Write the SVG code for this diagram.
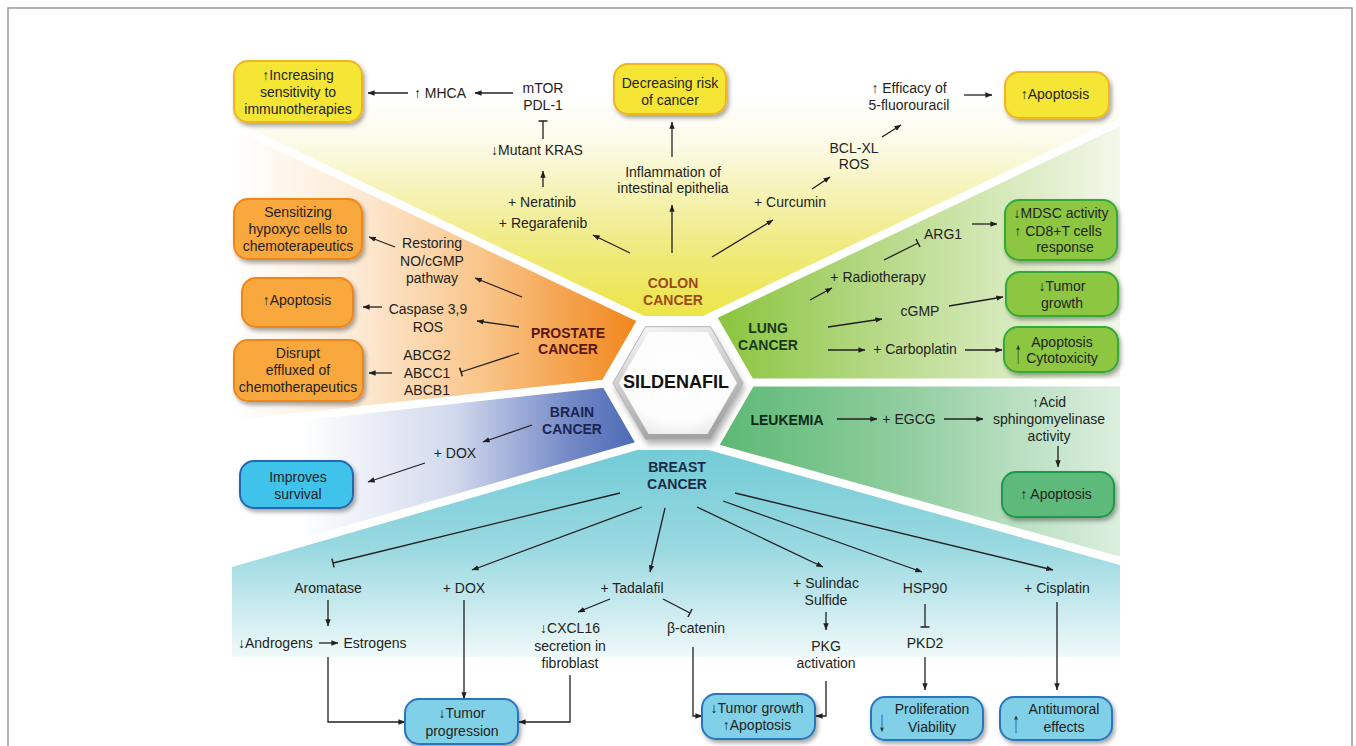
<svg xmlns="http://www.w3.org/2000/svg" width="1356" height="746" viewBox="0 0 1356 746">
<defs>
<style>
text{font-family:'Liberation Sans',Arial,Helvetica,sans-serif;font-size:14px;fill:#231f20;text-anchor:middle}
.lb{font-weight:bold}
.c{fill:none;stroke:#231f20;stroke-width:1.3}
.a{marker-end:url(#ah)}
.t{marker-end:url(#tb)}
.box{stroke-width:2;filter:url(#sh)}
.by{fill:#f5e535;stroke:#f2b520}
.bo{fill:#f9a83e;stroke:#f08619}
.bc{fill:#3fc3ea;stroke:#2868b0}
.bl{fill:#8dc63f;stroke:#36a939}
.bk{fill:#5dba7a;stroke:#1f9a48}
.bb{fill:#80d0e7;stroke:#2a76be}
.sep{stroke:#fff;stroke-width:8;fill:none}
</style>
<marker id="ah" viewBox="0 0 10 10" refX="9.5" refY="5" markerWidth="7" markerHeight="7" orient="auto" markerUnits="userSpaceOnUse"><path d="M0,1.2 L10,5 L0,8.8 z" fill="#231f20"/></marker>
<marker id="tb" viewBox="0 0 4 12" refX="2" refY="6" markerWidth="3" markerHeight="10" orient="auto" markerUnits="userSpaceOnUse"><path d="M2,0 L2,12" stroke="#231f20" stroke-width="2"/></marker>
<filter id="sh" x="-20%" y="-20%" width="150%" height="160%"><feDropShadow dx="2" dy="3" stdDeviation="2" flood-color="#000" flood-opacity="0.35"/></filter>
<filter id="blur" x="-20%" y="-20%" width="140%" height="140%"><feGaussianBlur stdDeviation="3"/></filter>
<linearGradient id="gY" gradientUnits="userSpaceOnUse" x1="0" y1="322" x2="0" y2="95"><stop offset="0" stop-color="#ebe443"/><stop offset="0.35" stop-color="#f0eb84"/><stop offset="0.8" stop-color="#fcfbea"/><stop offset="1" stop-color="#ffffff"/></linearGradient>
<linearGradient id="gO" gradientUnits="userSpaceOnUse" x1="232" y1="0" x2="640" y2="0"><stop offset="0" stop-color="#ffffff"/><stop offset="0.3" stop-color="#fdebd6"/><stop offset="0.62" stop-color="#f9c487"/><stop offset="1" stop-color="#f18519"/></linearGradient>
<linearGradient id="gL" gradientUnits="userSpaceOnUse" x1="720" y1="0" x2="1120" y2="0"><stop offset="0" stop-color="#8bc53f"/><stop offset="0.45" stop-color="#bcdc90"/><stop offset="1" stop-color="#f3f8ea"/></linearGradient>
<linearGradient id="gK" gradientUnits="userSpaceOnUse" x1="720" y1="0" x2="1120" y2="0"><stop offset="0" stop-color="#5cb974"/><stop offset="0.45" stop-color="#8fcd9e"/><stop offset="1" stop-color="#dcefdf"/></linearGradient>
<linearGradient id="gB" gradientUnits="userSpaceOnUse" x1="300" y1="0" x2="640" y2="0"><stop offset="0" stop-color="#ffffff"/><stop offset="0.45" stop-color="#d3daee"/><stop offset="0.8" stop-color="#7288c6"/><stop offset="1" stop-color="#4a69b4"/></linearGradient>
<linearGradient id="gC" gradientUnits="userSpaceOnUse" x1="0" y1="440" x2="0" y2="657"><stop offset="0" stop-color="#6ecad5"/><stop offset="0.5" stop-color="#9ad9e1"/><stop offset="1" stop-color="#f0f9fa"/></linearGradient>
<linearGradient id="gHex" x1="0" y1="0" x2="0.3" y2="1"><stop offset="0" stop-color="#fafafa"/><stop offset="1" stop-color="#a4a4a4"/></linearGradient>
<radialGradient id="gHexIn" cx="0.5" cy="0.42" r="0.62"><stop offset="0" stop-color="#ffffff"/><stop offset="0.75" stop-color="#fcfcfc"/><stop offset="1" stop-color="#ececec"/></radialGradient>
</defs>

<rect x="0" y="0" width="1356" height="746" fill="#ffffff"/>
<rect x="8" y="8" width="1344" height="800" fill="none" stroke="#9a9a9a" stroke-width="1.5"/>

<g id="wedges">
<polygon points="678,383 660,328 232,124.3 232,40 1120,40 1120,122 696,323.7" fill="url(#gY)"/>
<polygon points="678,383 660,328 232,124.3 232,424.2 630,380.8" fill="url(#gO)"/>
<polygon points="678,383 630,380.8 232,424.2 232,562.9 660,439.2" fill="url(#gB)"/>
<polygon points="678,383 660,439.2 232,562.9 232,657 1120,657 1120,560.8 696,442.2" fill="url(#gC)"/>
<polygon points="678,383 696,442.2 1120,560.8 1120,382.5 720,382.5" fill="url(#gK)"/>
<polygon points="678,383 720,382.5 1120,382.5 1120,122 696,323.7" fill="url(#gL)"/>
<line class="sep" x1="650" y1="323.2" x2="225" y2="121"/>
<line class="sep" x1="705" y1="319.4" x2="1130" y2="117.2"/>
<line class="sep" x1="615" y1="382.4" x2="225" y2="424.9"/>
<line class="sep" x1="740" y1="382.5" x2="1130" y2="382.5"/>
<line class="sep" x1="650" y1="442.1" x2="225" y2="564.9"/>
<line class="sep" x1="705" y1="444.8" x2="1130" y2="563.6"/>
<polygon points="604,383 641,318.9 715,318.9 752,383 715,447.1 641,447.1" fill="#fff" stroke="#fff" stroke-width="6" stroke-linejoin="round"/>
</g>

<g id="hub">
<polygon points="613,383 645.5,326.7 710.5,326.7 743,383 710.5,439.3 645.5,439.3" transform="translate(2,5)" fill="#000" opacity="0.3" filter="url(#blur)"/>
<polygon points="613,383 645.5,326.7 710.5,326.7 743,383 710.5,439.3 645.5,439.3" fill="url(#gHex)" stroke="#b4b4b4" stroke-width="1" stroke-linejoin="round"/>
<polygon points="619,383 648.5,331.9 707.5,331.9 737,383 707.5,434.1 648.5,434.1" fill="url(#gHexIn)" stroke-linejoin="round"/>
<text x="676" y="388" class="lb" style="font-size:18px;fill:#111">SILDENAFIL</text>
</g>

<g id="connectors">
<path class="c a" d="M408,93 L368,93"/>
<path class="c a" d="M513,93 L475,93"/>
<path class="c t" d="M543,139 L543,121"/>
<path class="c a" d="M543,187 L543,171"/>
<path class="c a" d="M630,253 L593,235"/>
<path class="c a" d="M672,157 L672,122"/>
<path class="c a" d="M672,253 L672,205"/>
<path class="c a" d="M712,257 L773,220"/>
<path class="c a" d="M812,189 L830,177"/>
<path class="c a" d="M882,137 L901,125"/>
<path class="c a" d="M964,95 L992,95"/>
<path class="c a" d="M395,247 L369,237"/>
<path class="c a" d="M522,297 L475,278"/>
<path class="c a" d="M382,307 L363,307"/>
<path class="c a" d="M519,327 L477,321"/>
<path class="c a" d="M392,373 L369,373"/>
<path class="c t" d="M519,353 L461,372"/>
<path class="c a" d="M532,425 L483,442"/>
<path class="c a" d="M425,463 L368,482"/>
<path class="c a" d="M810,300 L832,288"/>
<path class="c t" d="M884,260 L918,243"/>
<path class="c a" d="M972,224 L997,224"/>
<path class="c a" d="M828,327 L882,319"/>
<path class="c a" d="M949,306 L1003,297"/>
<path class="c a" d="M828,350 L865,350"/>
<path class="c a" d="M965,350 L1002,350"/>
<path class="c a" d="M837,419 L877,419"/>
<path class="c a" d="M944,419 L983,419"/>
<path class="c a" d="M1058,446 L1058,467"/>
<path class="c t" d="M620,493 L333,563"/>
<path class="c a" d="M642,507 L472,570"/>
<path class="c a" d="M665,508 L650,572"/>
<path class="c a" d="M697,507 L823,567"/>
<path class="c a" d="M723,501 L922,572"/>
<path class="c a" d="M735,493 L1053,570"/>
<path class="c a" d="M328,600 L328,626"/>
<path class="c a" d="M319,643 L338,643"/>
<path class="c a" d="M328,657 L328,722 L405,722"/>
<path class="c a" d="M464,600 L464,699"/>
<path class="c a" d="M610,599 L578,612"/>
<path class="c t" d="M663,599 L690,613"/>
<path class="c a" d="M570,675 L570,722 L519,722"/>
<path class="c a" d="M693,647 L693,716 L702,716"/>
<path class="c a" d="M826,612 L826,630"/>
<path class="c a" d="M826,681 L826,716 L816,716"/>
<path class="c t" d="M925,604 L925,627"/>
<path class="c a" d="M925,657 L925,690"/>
<path class="c a" d="M1057,602 L1057,690"/>
</g>

<g id="colon">
<text x="673" y="288" class="lb" style="fill:#9b4a1c">COLON</text>
<text x="673" y="305" class="lb" style="fill:#9b4a1c">CANCER</text>
<g id="c-box1"><rect class="box by" x="234" y="61" width="128" height="61" rx="14"/>
<text x="298" y="80">↑Increasing</text><text x="298" y="97">sensitivity to</text><text x="298" y="114">immunotherapies</text></g>
<g id="c-mhca"><text x="440" y="98">↑ MHCA</text></g>
<g id="c-mtor"><text x="543" y="93">mTOR</text><text x="543" y="110">PDL-1</text></g>
<g id="c-kras"><text x="537" y="155">↓Mutant KRAS</text></g>
<g id="c-nera"><text x="542" y="207">+ Neratinib</text><text x="543" y="228">+ Regarafenib</text></g>
<g id="c-box2"><rect class="box by" x="614" y="64" width="112" height="50" rx="14"/>
<text x="670" y="88">Decreasing risk</text><text x="670" y="105">of cancer</text></g>
<g id="c-infl"><text x="673" y="177">Inflammation of</text><text x="673" y="193">intestinal epithelia</text></g>
<g id="c-curc"><text x="790" y="207">+ Curcumin</text></g>
<g id="c-bcl"><text x="854" y="153">BCL-XL</text><text x="854" y="169">ROS</text></g>
<g id="c-eff"><text x="909" y="93">↑ Efficacy of</text><text x="909" y="110">5-fluorouracil</text></g>
<g id="c-box3"><rect class="box by" x="1005" y="72" width="104" height="46" rx="14"/>
<text x="1055" y="99">↑Apoptosis</text></g>
</g>

<g id="prostate">
<text x="568" y="338" class="lb" style="fill:#5c1510">PROSTATE</text>
<text x="568" y="354" class="lb" style="fill:#5c1510">CANCER</text>
<g id="p-box1"><rect class="box bo" x="234" y="199" width="128" height="60" rx="14"/>
<text x="298" y="217">Sensitizing</text><text x="298" y="234">hypoxyc cells to</text><text x="298" y="251">chemoterapeutics</text></g>
<g id="p-rest"><text x="432" y="248">Restoring</text><text x="432" y="266">NO/cGMP</text><text x="432" y="283">pathway</text></g>
<g id="p-box2"><rect class="box bo" x="242" y="278" width="111" height="49" rx="14"/>
<text x="297" y="305">↑Apoptosis</text></g>
<g id="p-casp"><text x="428" y="314">Caspase 3,9</text><text x="428" y="332">ROS</text></g>
<g id="p-box3"><rect class="box bo" x="234" y="340" width="129" height="61" rx="14"/>
<text x="298" y="358">Disrupt</text><text x="298" y="375">effluxed of</text><text x="298" y="392">chemotherapeutics</text></g>
<g id="p-abc"><text x="427" y="360">ABCG2</text><text x="427" y="378">ABCC1</text><text x="427" y="395">ABCB1</text></g>
</g>

<g id="brain">
<text x="572" y="417" class="lb" style="fill:#1b2550">BRAIN</text>
<text x="572" y="434" class="lb" style="fill:#1b2550">CANCER</text>
<g id="b-dox"><text x="455" y="458">+ DOX</text></g>
<g id="b-box"><rect class="box bc" x="240" y="461" width="113" height="47" rx="14"/>
<text x="298" y="482">Improves</text><text x="298" y="499">survival</text></g>
</g>

<g id="lung">
<text x="768" y="333" class="lb" style="fill:#173a1b">LUNG</text>
<text x="768" y="350" class="lb" style="fill:#173a1b">CANCER</text>
<g id="l-radio"><text x="878" y="282">+ Radiotherapy</text></g>
<g id="l-arg"><text x="943" y="239">ARG1</text></g>
<g id="l-box1"><rect class="box bl" x="1005" y="200" width="112" height="60" rx="14"/>
<text x="1061" y="218">↓MDSC activity</text><text x="1058" y="236">↑ CD8+T cells</text><text x="1065" y="252">response</text></g>
<g id="l-cgmp"><text x="920" y="316">cGMP</text></g>
<g id="l-box2"><rect class="box bl" x="1006" y="272" width="112" height="44" rx="14"/>
<text x="1062" y="291">↓Tumor</text><text x="1062" y="308">growth</text></g>
<g id="l-carbo"><text x="915" y="354">+ Carboplatin</text></g>
<g id="l-box3"><rect class="box bl" x="1004" y="327" width="114" height="45" rx="14"/>
<text transform="translate(1018,363) scale(1,2.3)">↑</text>
<text x="1062" y="347">Apoptosis</text><text x="1062" y="363">Cytotoxicity</text></g>
</g>

<g id="leukemia">
<text x="787" y="425" class="lb" style="fill:#0e2a17">LEUKEMIA</text>
<g id="k-egcg"><text x="909" y="424">+ EGCG</text></g>
<g id="k-acid"><text x="1049" y="407">↑Acid</text><text x="1049" y="424">sphingomyelinase</text><text x="1049" y="441">activity</text></g>
<g id="k-box"><rect class="box bk" x="1002" y="472" width="112" height="45" rx="14"/>
<text x="1056" y="499">↑ Apoptosis</text></g>
</g>

<g id="breast">
<text x="677" y="472" class="lb" style="fill:#1c2b48">BREAST</text>
<text x="677" y="489" class="lb" style="fill:#1c2b48">CANCER</text>
<g id="r-arom"><text x="328" y="593">Aromatase</text></g>
<g id="r-andr"><text x="238" y="648" style="text-anchor:start">↓Androgens</text></g>
<g id="r-estr"><text x="375" y="648">Estrogens</text></g>
<g id="r-dox"><text x="464" y="593">+ DOX</text></g>
<g id="r-box1"><rect class="box bb" x="405" y="699" width="113" height="45" rx="14"/>
<text x="462" y="718">↓Tumor</text><text x="462" y="736">progression</text></g>
<g id="r-tada"><text x="632" y="593">+ Tadalafil</text></g>
<g id="r-cxcl"><text x="570" y="633">↓CXCL16</text><text x="570" y="651">secretion in</text><text x="570" y="668">fibroblast</text></g>
<g id="r-bcat"><text x="696" y="633">β-catenin</text></g>
<g id="r-box2"><rect class="box bb" x="702" y="694" width="113" height="45" rx="14"/>
<text x="757" y="713">↓Tumor growth</text><text x="757" y="730">↑Apoptosis</text></g>
<g id="r-suli"><text x="826" y="588">+ Sulindac</text><text x="826" y="605">Sulfide</text></g>
<g id="r-pkg"><text x="826" y="651">PKG</text><text x="826" y="668">activation</text></g>
<g id="r-hsp"><text x="925" y="593">HSP90</text></g>
<g id="r-pkd"><text x="925" y="648">PKD2</text></g>
<g id="r-box3"><rect class="box bb" x="871" y="697" width="112" height="43" rx="14"/>
<text transform="translate(882,731) scale(1,2.1)">↓</text>
<text x="932" y="714">Proliferation</text><text x="932" y="732">Viability</text></g>
<g id="r-cis"><text x="1057" y="593">+ Cisplatin</text></g>
<g id="r-box4"><rect class="box bb" x="1000" y="697" width="112" height="43" rx="14"/>
<text transform="translate(1016,732) scale(1,2.1)">↑</text>
<text x="1064" y="714">Antitumoral</text><text x="1064" y="732">effects</text></g>
</g>
</svg>
